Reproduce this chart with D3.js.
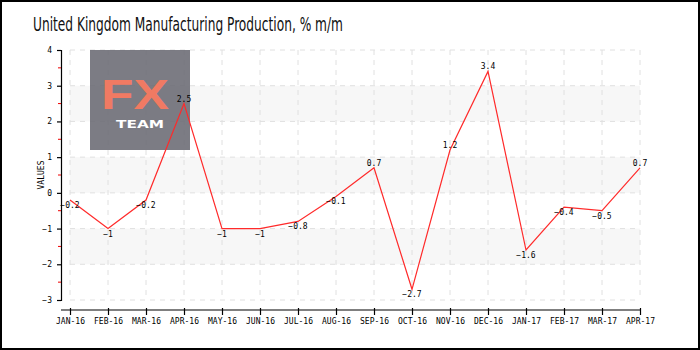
<!DOCTYPE html>
<html><head><meta charset="utf-8">
<script src="https://cdn.jsdelivr.net/npm/d3@7"></script>
<style>
html,body{margin:0;padding:0;background:#fff;}
svg{display:block;}
.ax text{font-family:"DejaVu Sans Mono",monospace;font-size:8px;fill:#000;}
</style></head><body>
<script>
const categories = ["JAN-16","FEB-16","MAR-16","APR-16","MAY-16","JUN-16","JUL-16","AUG-16","SEP-16","OCT-16","NOV-16","DEC-16","JAN-17","FEB-17","MAR-17","APR-17"];
const values = [-0.2,-1,-0.2,2.5,-1,-1,-0.8,-0.1,0.7,-2.7,1.2,3.4,-1.6,-0.4,-0.5,0.7];
const yTicks = [-3,-2,-1,0,1,2,3,4];
const yMinorTicks = [-2.5,-1.5,-0.5,0.5,1.5,2.5,3.5];
const bands = [[2,3],[0,1],[-2,-1]];
const title = "United Kingdom Manufacturing Production, % m/m";

const W=700,H=350;
const svg=d3.select("body").append("svg").attr("width",W).attr("height",H);
svg.append("rect").attr("x",1).attr("y",1).attr("width",W-2).attr("height",H-2)
  .attr("fill","#fff").attr("stroke","#000").attr("stroke-width",2);

const x=d3.scalePoint().domain(categories).range([70,640]);
const y=d3.scaleLinear().domain([-3,4]).range([300,50]);

svg.append("text").attr("x",33).attr("y",31).text(title)
  .attr("font-family","'Liberation Sans Narrow','DejaVu Sans Condensed',sans-serif")
  .attr("font-size",19).attr("fill","#111")
  .attr("textLength",310).attr("lengthAdjust","spacingAndGlyphs");

const g=svg.append("g");
g.selectAll(".band").data(bands).join("rect")
  .attr("x",x(categories[0])).attr("width",x(categories[categories.length-1])-x(categories[0]))
  .attr("y",d=>y(d[1])).attr("height",d=>y(d[0])-y(d[1])).attr("fill","#f7f7f7");
g.selectAll(".hg").data(yTicks).join("line")
  .attr("x1",x(categories[0])).attr("x2",x(categories[categories.length-1]))
  .attr("y1",d=>y(d)).attr("y2",d=>y(d))
  .attr("stroke","#e0e0e0").attr("stroke-dasharray","5,5");
g.selectAll(".vg").data(categories).join("line")
  .attr("x1",d=>x(d)).attr("x2",d=>x(d)).attr("y1",y(4)).attr("y2",y(-3))
  .attr("stroke","#e0e0e0").attr("stroke-dasharray","5,5");

// logo
const logo=svg.append("g");
logo.append("rect").attr("x",90).attr("y",50).attr("width",100).attr("height",100)
  .attr("fill","#6a6a73").attr("opacity",0.88);
logo.append("text").attr("x",135).attr("y",109).attr("text-anchor","middle").text("FX")
  .attr("font-family","'Liberation Sans','DejaVu Sans',sans-serif").attr("font-weight","bold")
  .attr("font-size",42).attr("fill","#f07a63")
  .attr("textLength",68).attr("lengthAdjust","spacingAndGlyphs");
logo.append("text").attr("x",140).attr("y",128).attr("text-anchor","middle").text("TEAM")
  .attr("font-family","'DejaVu Sans',sans-serif").attr("font-weight","bold").attr("font-size",11).attr("fill","#fff")
  .attr("textLength",48).attr("lengthAdjust","spacingAndGlyphs");

// axes
const ya=svg.append("g").attr("class","ax").attr("transform","translate(61,0)")
  .call(d3.axisLeft(y).tickValues(yTicks).tickSize(4).tickPadding(5).tickFormat(d3.format("d")));
ya.select(".domain").attr("stroke","#000").attr("stroke-width",1.2);
ya.selectAll(".tick line").attr("stroke","#000").attr("stroke-width",1.2);
svg.append("g").selectAll("line").data(yMinorTicks).join("line")
  .attr("x1",58).attr("x2",61).attr("y1",d=>y(d)).attr("y2",d=>y(d)).attr("stroke","#e00").attr("stroke-width",1);

const xa=svg.append("g").attr("class","ax").attr("transform","translate(0,310)")
  .call(d3.axisBottom(x).tickSize(5).tickPadding(3).tickSizeOuter(0));
xa.select(".domain").attr("d",`M61,0H${x(categories[categories.length-1])}`).attr("stroke","#000").attr("stroke-width",1.2);
xa.selectAll(".tick line").attr("y1",-2).attr("y2",5).attr("stroke","#000").attr("stroke-width",1.2);

svg.append("text").attr("class","ax").attr("transform","translate(44,175) rotate(-90)")
  .attr("text-anchor","middle").text("VALUES")
  .attr("font-family","'DejaVu Sans Mono',monospace").attr("font-size",8);

svg.append("path").datum(values)
  .attr("d",d3.line().x((d,i)=>x(categories[i])).y(d=>y(d)))
  .attr("fill","none").attr("stroke","#ff2a2a").attr("stroke-width",1.2);

svg.append("g").selectAll("text").data(values).join("text")
  .attr("x",(d,i)=>x(categories[i])).attr("y",d=>d>=0?y(d)-2:y(d)+8)
  .attr("text-anchor","middle").text(d=>d3.format("")(d))
  .attr("font-family","'DejaVu Sans Mono',monospace").attr("font-size",8).attr("fill","#000");
</script>
</body></html>
